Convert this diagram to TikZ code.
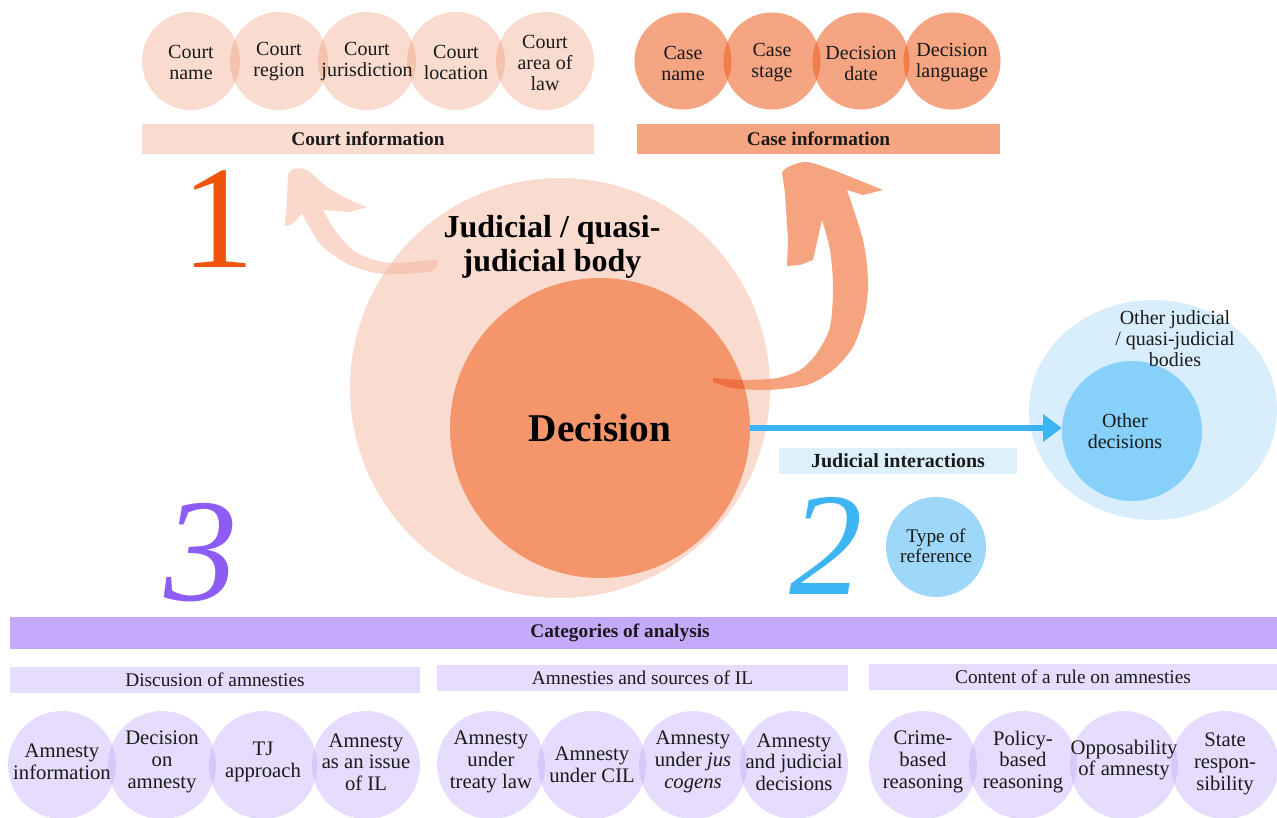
\documentclass[tikz,border=0pt]{standalone}
\usepackage{fontspec}
\setmainfont{Liberation Serif}
\usetikzlibrary{arrows.meta}
\definecolor{ink}{HTML}{1A1A1A}
\definecolor{courtC}{HTML}{FADBCF}
\definecolor{courtO}{HTML}{F5C2AB}
\definecolor{caseC}{HTML}{F6A583}
\definecolor{caseO}{HTML}{F07D4B}
\definecolor{bodyC}{HTML}{FADBCF}
\definecolor{decC}{HTML}{F4956B}
\definecolor{arrL}{HTML}{F5B8A0}
\definecolor{arrR}{HTML}{F59468}
\definecolor{arrRO}{HTML}{EE7040}
\definecolor{blueA}{HTML}{3CB3F4}
\definecolor{jiBar}{HTML}{DDF1FC}
\definecolor{outerB}{HTML}{D9EEFC}
\definecolor{innerB}{HTML}{86D0FA}
\definecolor{typeB}{HTML}{9DD8FB}
\definecolor{catBar}{HTML}{C5A9FC}
\definecolor{purC}{HTML}{E6DCFD}
\definecolor{purO}{HTML}{D8C8FA}
\definecolor{numA}{HTML}{F0530A}
\definecolor{numB}{HTML}{3DB5F5}
\definecolor{numC}{HTML}{8C5CF5}
\newcommand\lensfill[4]{\begin{scope}\clip #1 circle (#3);\fill[#4] #2 circle (#3);\end{scope}}
\newcommand\arrRshape{(713,382) -- plot[smooth] coordinates {(713,382)(733,388)(767,390)(807,385)(833,370)(853,347)(865,313)(868,280)(863,240)(847,190)} -- (863,195) -- (883,190) -- plot[smooth] coordinates {(883,190)(833,170)(807,162)(790,166)(782,172)} -- (785,193) -- (788,240) -- (787,266) -- (800,265) -- (813,260) -- (822,220) -- plot[smooth] coordinates {(822,220)(830,250)(833,287)(830,327)(817,353)(800,370)(777,378)(743,380)(713,378)} -- cycle}
\begin{document}
\begin{tikzpicture}[x=0.75pt,y=-0.75pt,
  txt/.style={align=center, text=ink, inner sep=0pt, font=\fontsize{15}{15.75}\selectfont},
  ctxt/.style={txt, circle, minimum size=73.5pt},
  ptxt/.style={txt, circle, minimum size=81pt, font=\fontsize{15.5}{16.25}\selectfont},
  bar/.style={inner sep=0pt, text=ink, font=\fontsize{14.5}{16}\selectfont},
  bbar/.style={bar, font=\bfseries\fontsize{14.5}{16}\selectfont},
  numeral/.style={inner sep=0pt, font=\fontsize{110}{110}\selectfont}]
\useasboundingbox (0,0) rectangle (1277,817);

% ---------- Court information ----------
\foreach \x in {191,279,367,456,545} \fill[courtC] (\x,61) circle (36.75pt);
\lensfill{(191,61)}{(279,61)}{36.75pt}{courtO}
\lensfill{(279,61)}{(367,61)}{36.75pt}{courtO}
\lensfill{(367,61)}{(456,61)}{36.75pt}{courtO}
\lensfill{(456,61)}{(545,61)}{36.75pt}{courtO}
\node[ctxt] (cname) at (191,62) {Court\\name};
\node[ctxt] (cregion) at (279,62) {Court\\region};
\node[ctxt] (cjur) at (367,62) {Court\\jurisdiction};
\node[ctxt] (cloc) at (456,62) {Court\\location};
\node[ctxt] (carea) at (545,63) {Court\\area of\\law};
\node[bbar, fill=courtC, minimum width=339pt, minimum height=22.5pt] (courtbar) at (368,139) {Court information};

% ---------- Case information ----------
\foreach \x in {683,772,861,952} \fill[caseC] (\x,61) circle (36.4pt);
\lensfill{(683,61)}{(772,61)}{36.4pt}{caseO}
\lensfill{(772,61)}{(861,61)}{36.4pt}{caseO}
\lensfill{(861,61)}{(952,61)}{36.4pt}{caseO}
\node[ctxt] (casename) at (683,63) {Case\\name};
\node[ctxt] (casestage) at (772,63) {Case\\stage};
\node[ctxt] (decdate) at (861,63) {Decision\\date};
\node[ctxt] (declang) at (952,63) {Decision\\language};
\node[bbar, fill=caseC, minimum width=272.25pt, minimum height=22.5pt] (casebar) at (818.5,139) {Case information};

% ---------- numerals ----------
\node[numeral, text=numA] (n1) at (218,219) {1};
\node[numeral, text=numB] (n2) at (826,546) {\itshape 2};
\node[numeral, text=numC] (n3) at (201,553) {\itshape 3};

% ---------- body and decision ----------
\fill[bodyC] (560,388) circle (157.5pt);
\node[circle, minimum size=225pt, fill=decC, inner sep=0pt, text=black,
      font=\bfseries\fontsize{29.5}{30}\selectfont] (dec) at (600,428) {Decision};
\node[align=center, inner sep=0pt, text=black, font=\bfseries\fontsize{24}{25.5}\selectfont] (body) at (552,247) {Judicial / quasi-\\judicial body};

% left curved arrow (to court information)
\fill[arrL, fill opacity=0.55] (437,262) -- plot[smooth] coordinates {(437,262)(433,260)(390,263)(357,253)(337,233)(323,210)} -- (350,212) -- (367,207) -- plot[smooth] coordinates {(367,207)(350,200)(327,187)(307,170)(293,169)(288,175)} -- (287,200) -- (285,226) -- (293,224) -- (302,213) -- plot[smooth] coordinates {(302,213)(307,223)(323,247)(350,265)(383,274)(427,272)(437,266)} -- cycle;

% right curved arrow (to case information)
\fill[arrR, fill opacity=0.85] \arrRshape;
\begin{scope}
  \clip (600,428) circle (112.5pt);
  \fill[arrRO] \arrRshape;
\end{scope}

% ---------- other bodies ----------
\fill[outerB] (1153,410) ellipse (93pt and 82.5pt);
\node[circle, minimum size=105pt, fill=innerB, inner sep=0pt] (odec) at (1132,431) {};
\node[txt] (obodies) at (1175,339) {Other judicial\\/ quasi-judicial\\bodies};
\node[txt] (odectxt) at (1125,431) {Other\\decisions};
\draw[blueA, line width=4.5pt, -{Triangle[length=14pt,width=20pt]}] (dec.east) -- (dec.east -| odec.west);
\node[bbar, fill=jiBar, minimum width=178.5pt, minimum height=19.5pt, font=\bfseries\fontsize{15}{16}\selectfont] (jibar) at (898,461) {Judicial interactions};
\node[circle, minimum size=75pt, fill=typeB, inner sep=0pt] (typeref) at (936,547) {};
\node[txt, font=\fontsize{14.5}{15}\selectfont] (typetxt) at (936,546) {Type of\\reference};

% ---------- categories ----------
\node[bbar, fill=catBar, minimum width=950.25pt, minimum height=24pt] (catbar) at (643.5,633) {};
\node[bbar] (cattxt) at (620,633) {Categories of analysis};
\node[bar, fill=purC, minimum width=307.5pt, minimum height=19.5pt] (sub1) at (215,680) {Discusion of amnesties};
\node[bar, fill=purC, minimum width=308.25pt, minimum height=19.5pt] (sub2) at (642.5,678) {Amnesties and sources of IL};
\node[bar, fill=purC, minimum width=306pt, minimum height=19.5pt] (sub3) at (1073,677) {Content of a rule on amnesties};

\foreach \x in {62,162,263,366, 491,592,693,794, 923,1023,1124,1225} \fill[purC] (\x,765) circle (40.5pt);
\lensfill{(62,765)}{(162,765)}{40.5pt}{purO}
\lensfill{(162,765)}{(263,765)}{40.5pt}{purO}
\lensfill{(263,765)}{(366,765)}{40.5pt}{purO}
\lensfill{(491,765)}{(592,765)}{40.5pt}{purO}
\lensfill{(592,765)}{(693,765)}{40.5pt}{purO}
\lensfill{(693,765)}{(794,765)}{40.5pt}{purO}
\lensfill{(923,765)}{(1023,765)}{40.5pt}{purO}
\lensfill{(1023,765)}{(1124,765)}{40.5pt}{purO}
\lensfill{(1124,765)}{(1225,765)}{40.5pt}{purO}
\node[ptxt] (p1) at (62,762) {Amnesty\\information};
\node[ptxt] (p2) at (162,762) {Decision\\on\\amnesty};
\node[ptxt] (p3) at (263,762) {TJ\\approach};
\node[ptxt] (p4) at (366,762) {Amnesty\\as an issue\\of IL};
\node[ptxt] (p5) at (491,762) {Amnesty\\under\\treaty law};
\node[ptxt] (p6) at (592,765) {Amnesty\\under CIL};
\node[ptxt] (p7) at (693,762) {Amnesty\\under \textit{jus}\\\textit{cogens}};
\node[ptxt] (p8) at (794,762) {Amnesty\\and judicial\\decisions};
\node[ptxt] (p9) at (923,762) {Crime-\\based\\reasoning};
\node[ptxt] (p10) at (1023,762) {Policy-\\based\\reasoning};
\node[ptxt] (p11) at (1124,760) {Opposability\\of amnesty};
\node[ptxt] (p12) at (1225,764) {State\\respon-\\sibility};
\end{tikzpicture}
\end{document}
